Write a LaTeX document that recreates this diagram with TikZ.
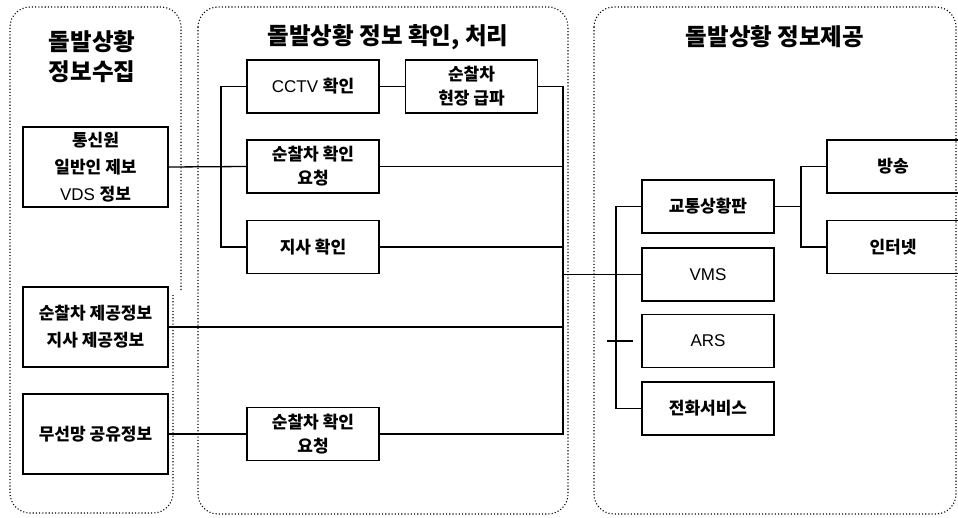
\documentclass[tikz,border=0pt]{standalone}
\usepackage{fontspec}
\setmainfont{Liberation Sans}
\newfontfamily\krfont{Noto Sans CJK KR}
\newcommand{\hk}[1]{{\krfont\bfseries #1}}
\begin{document}
\begin{tikzpicture}[x=1pt,y=-1pt,
  panel/.style={line width=1.1pt,dash pattern=on 1.1pt off 2.1pt,rounded corners=20pt},
  box/.style={draw,line width=1.3pt,minimum width=132pt,minimum height=53pt,inner sep=0pt,align=center,font=\fontsize{17}{24}\selectfont},
  lbox/.style={box,minimum width=145pt,minimum height=80pt,font=\fontsize{17}{27}\selectfont},
  ttl/.style={align=center,inner sep=0pt,font=\fontsize{23.5}{30}\selectfont},
  conn/.style={line width=1.3pt}]
\useasboundingbox (0,0) rectangle (958,517);
% panels
\draw[panel] (181,290) -- (181,7) -- (10,7) -- (10,513) -- (173,513) -- (173,295);
\draw[panel] (198,7) rectangle (568,514);
\draw[panel] (594,7) rectangle (956,514);
% titles
\node[ttl] (t1) at (92,57) {\hk{돌발상황}\\\hk{정보수집}};
\node[ttl] (t2) at (388,37) {\hk{돌발상황 정보 확인, 처리}};
\node[ttl] (t3) at (775,37) {\hk{돌발상황 정보제공}};
% panel 1 boxes
\node[lbox] (a1) at (95.5,167) {\hk{통신원}\\\hk{일반인 제보}\\VDS \hk{정보}};
\node[lbox] (a2) at (95.5,327) {\hk{순찰차 제공정보}\\\hk{지사 제공정보}};
\node[lbox] (a3) at (95.5,434) {\hk{무선망 공유정보}};
% panel 2 boxes
\node[box] (b1) at (313,86.5) {CCTV \hk{확인}};
\node[box] (b2) at (471.5,86.5) {\hk{순찰차}\\\hk{현장 급파}};
\node[box] (b3) at (313,166.5) {\hk{순찰차 확인}\\\hk{요청}};
\node[box] (b4) at (313,247) {\hk{지사 확인}};
\node[box] (b5) at (313,434) {\hk{순찰차 확인}\\\hk{요청}};
% panel 3 boxes
\node[box] (c1) at (708,206.5) {\hk{교통상황판}};
\node[box] (c2) at (708,274.5) {VMS};
\node[box] (c3) at (708,341) {ARS};
\node[box] (c4) at (708,408.5) {\hk{전화서비스}};
\node[box] (d1) at (893,166.5) {\hk{방송}};
\node[box] (d2) at (893,247) {\hk{인터넷}};
% bus coordinates
\coordinate (lb) at (221,0);
\coordinate (rb) at (563,0);
\coordinate (cb) at (616,0);
\coordinate (db) at (801,0);
\coordinate (ars1) at (607,341);
\coordinate (ars2) at (633,341);
% connectors panel 2
\draw[conn] (a1.east) -- (b3.west);
\draw[conn] (b1.west) -- (b1.west -| lb) |- (b4.west);
\draw[conn] (b1.east) -- (b2.west);
\draw[conn] (b2.east) -- (b2.east -| rb) |- (b5.east);
\draw[conn] (b3.east) -- (b3.east -| rb);
\draw[conn] (b4.east) -- (b4.east -| rb);
\draw[conn] (a2.east) -- (a2.east -| rb);
\draw[conn] (a3.east) -- (b5.west);
% to panel 3
\draw[conn] (c2.west -| rb) -- (c2.west);
\draw[conn] (c1.west) -- (c1.west -| cb) |- (c4.west);
\draw[conn] (ars1) -- (ars2);
\draw[conn] (c1.east) -- (c1.east -| db);
\draw[conn] (d1.west) -- (d1.west -| db) |- (d2.west);
\end{tikzpicture}
\end{document}
